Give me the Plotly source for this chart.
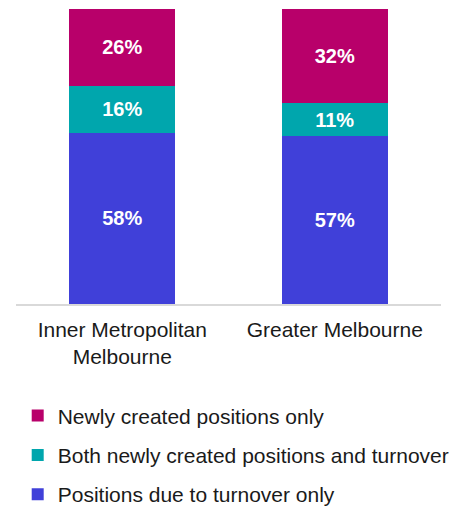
import plotly.graph_objects as go

categories = ["Inner Metropolitan<br>Melbourne", "Greater Melbourne"]
turnover_only = [58, 57]
both = [16, 11]
newly_only = [26, 32]

series = [
    ("Positions due to turnover only", turnover_only, "#4040D9", 3),
    ("Both newly created positions and turnover", both, "#00A6AD", 2),
    ("Newly created positions only", newly_only, "#B8006A", 1),
]

FONT = "Liberation Sans, Arial, sans-serif"

fig = go.Figure()
for i, (name, vals, color, rank) in enumerate(series):
    fig.add_trace(go.Bar(
        x=categories, y=vals, name=name,
        marker=dict(color=color, line=dict(width=0)),
        texttemplate="%{y}%", textposition="inside",
        insidetextanchor="middle", constraintext="none",
        textfont=dict(family=FONT, size=20, color="white", weight="bold"),
        legendgroup=f"g{i}", legendrank=rank, hoverinfo="skip",
    ))

fig.update_layout(
    barmode="stack", bargap=0.5,
    width=454, height=498,
    margin=dict(l=8, r=21, t=1, b=202, autoexpand=False),
    paper_bgcolor="white", plot_bgcolor="white",
    font=dict(family=FONT, size=21, color="#1a1a1a"),
    xaxis=dict(showline=True, linecolor="#d9d9d9", linewidth=1.5,
               ticks="", ticklabelstandoff=6,
               tickfont=dict(family=FONT, size=21, color="#1a1a1a")),
    yaxis=dict(range=[0, 100], visible=False, showgrid=False),
    showlegend=True,
    legend=dict(orientation="v", traceorder="grouped",
                tracegroupgap=9, x=0.004, xanchor="left",
                y=-0.31, yanchor="top",
                font=dict(family=FONT, size=21, color="#1a1a1a"),
                bgcolor="rgba(0,0,0,0)"),
)

fig.write_html("out.html")
